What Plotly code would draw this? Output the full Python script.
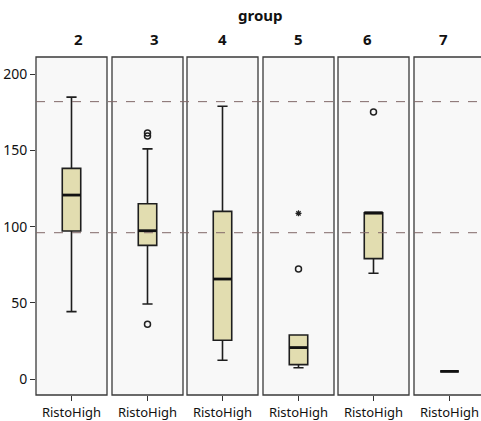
import plotly.graph_objects as go

groups = ["2", "3", "4", "5", "6", "7"]
lowerfence = [44.2, 49.2, 12.3, 7.4, 69.4, 5.0]
q1 = [97.1, 87.7, 25.4, 9.4, 79.0, 5.0]
median = [120.7, 97.3, 65.6, 20.6, 109.1, 5.0]
q3 = [138.2, 115.0, 110.0, 28.9, 109.1, 5.0]
upperfence = [185.0, 151.0, 179.0, 28.9, 109.1, 5.0]
outlier_circles = [[], [161.5, 159.5, 36.0], [], [72.2], [175.2], []]
outlier_stars = [[], [], [], [108.7], [], []]
ref_lines = [182.0, 96.0]
y_ticks = [0, 50, 100, 150, 200]
x_label = "RistoHigh"

W, H = 481, 421
L, R, T, B = 36, 0, 57, 26
pw = W - L - R
panel_left_px = [36, 112, 187, 263, 338, 414]
panel_w = 71

fig = go.Figure()
text_col = "#111111"
font_fam = "Noto Sans"

for i, g in enumerate(groups):
    xa = "x" if i == 0 else f"x{i+1}"
    axname = "xaxis" if i == 0 else f"xaxis{i+1}"
    d0 = (panel_left_px[i] - L) / pw
    d1 = min((panel_left_px[i] + panel_w - L) / pw, 1.0)
    span = (d1 - d0) * pw / panel_w
    fig.update_layout(**{axname: dict(
        domain=[d0, d1], range=[-0.5, -0.5 + span], anchor="y",
        tickmode="array", tickvals=[0], ticktext=[x_label],
        ticks="outside", ticklen=5, tickcolor="#333", tickwidth=1.2, showgrid=False,
        zeroline=False, showline=False,
        tickfont=dict(family=font_fam, size=13, color=text_col), fixedrange=True)})
    x1p = (panel_left_px[i] + panel_w - L) / pw
    fig.add_shape(type="rect", xref="paper", yref="paper", x0=d0, x1=x1p, y0=0, y1=1,
                  fillcolor="#f8f8f8", line=dict(color="#3a3a3a", width=1.3), layer="below")
    fig.add_trace(go.Box(
        x=[0], q1=[q1[i]], median=[median[i]], q3=[q3[i]],
        lowerfence=[lowerfence[i]], upperfence=[upperfence[i]],
        width=0.26, whiskerwidth=0.55, fillcolor="#e2ddb0",
        line=dict(color="#1e1e1e", width=1.6), boxpoints=False,
        xaxis=xa, yaxis="y", showlegend=False, hoverinfo="skip"))
    fig.add_trace(go.Scatter(
        x=[-0.13, 0.13], y=[median[i], median[i]], mode="lines",
        line=dict(color="#111111", width=2.8), xaxis=xa, yaxis="y",
        showlegend=False, hoverinfo="skip"))
    if outlier_circles[i]:
        fig.add_trace(go.Scatter(
            x=[0] * len(outlier_circles[i]), y=outlier_circles[i], mode="markers",
            marker=dict(symbol="circle-open", size=6, color="#222", line=dict(width=1.5)),
            xaxis=xa, yaxis="y", showlegend=False, hoverinfo="skip"))
    if outlier_stars[i]:
        fig.add_trace(go.Scatter(
            x=[0] * len(outlier_stars[i]), y=outlier_stars[i], mode="markers",
            marker=dict(symbol="asterisk-open", size=5, color="#222", line=dict(width=1.2, color="#222")),
            xaxis=xa, yaxis="y", showlegend=False, hoverinfo="skip"))
    fig.add_annotation(text=f"<b>{g}</b>", xref="paper", yref="paper",
                       x=(panel_left_px[i] + panel_w / 2 - L) / pw, y=1, yshift=6,
                       yanchor="bottom", showarrow=False,
                       font=dict(family=font_fam, size=15, color=text_col))

for v in ref_lines:
    fig.add_shape(type="line", xref="paper", yref="y", x0=0, x1=1, y0=v, y1=v,
                  line=dict(color="#806868", width=1, dash="dash"), layer="above")

fig.add_annotation(text="<b>group</b>", xref="paper", yref="paper",
                   x=(260 - L) / pw, y=1, yshift=30, yanchor="bottom", showarrow=False,
                   font=dict(family=font_fam, size=15, color=text_col))

fig.update_layout(
    width=W, height=H, margin=dict(l=L, r=R, t=T, b=B),
    paper_bgcolor="white", plot_bgcolor="rgba(0,0,0,0)",
    yaxis=dict(range=[-10.5, 211.3], tickvals=y_ticks, ticks="outside", ticklen=5,
               tickcolor="#333", tickwidth=1.2, showgrid=False, zeroline=False, showline=False,
               tickfont=dict(family=font_fam, size=14, color=text_col), fixedrange=True),
    showlegend=False,
)

fig.write_html("out.html", config={"displayModeBar": False},
               post_script="document.body.style.margin='0';")
